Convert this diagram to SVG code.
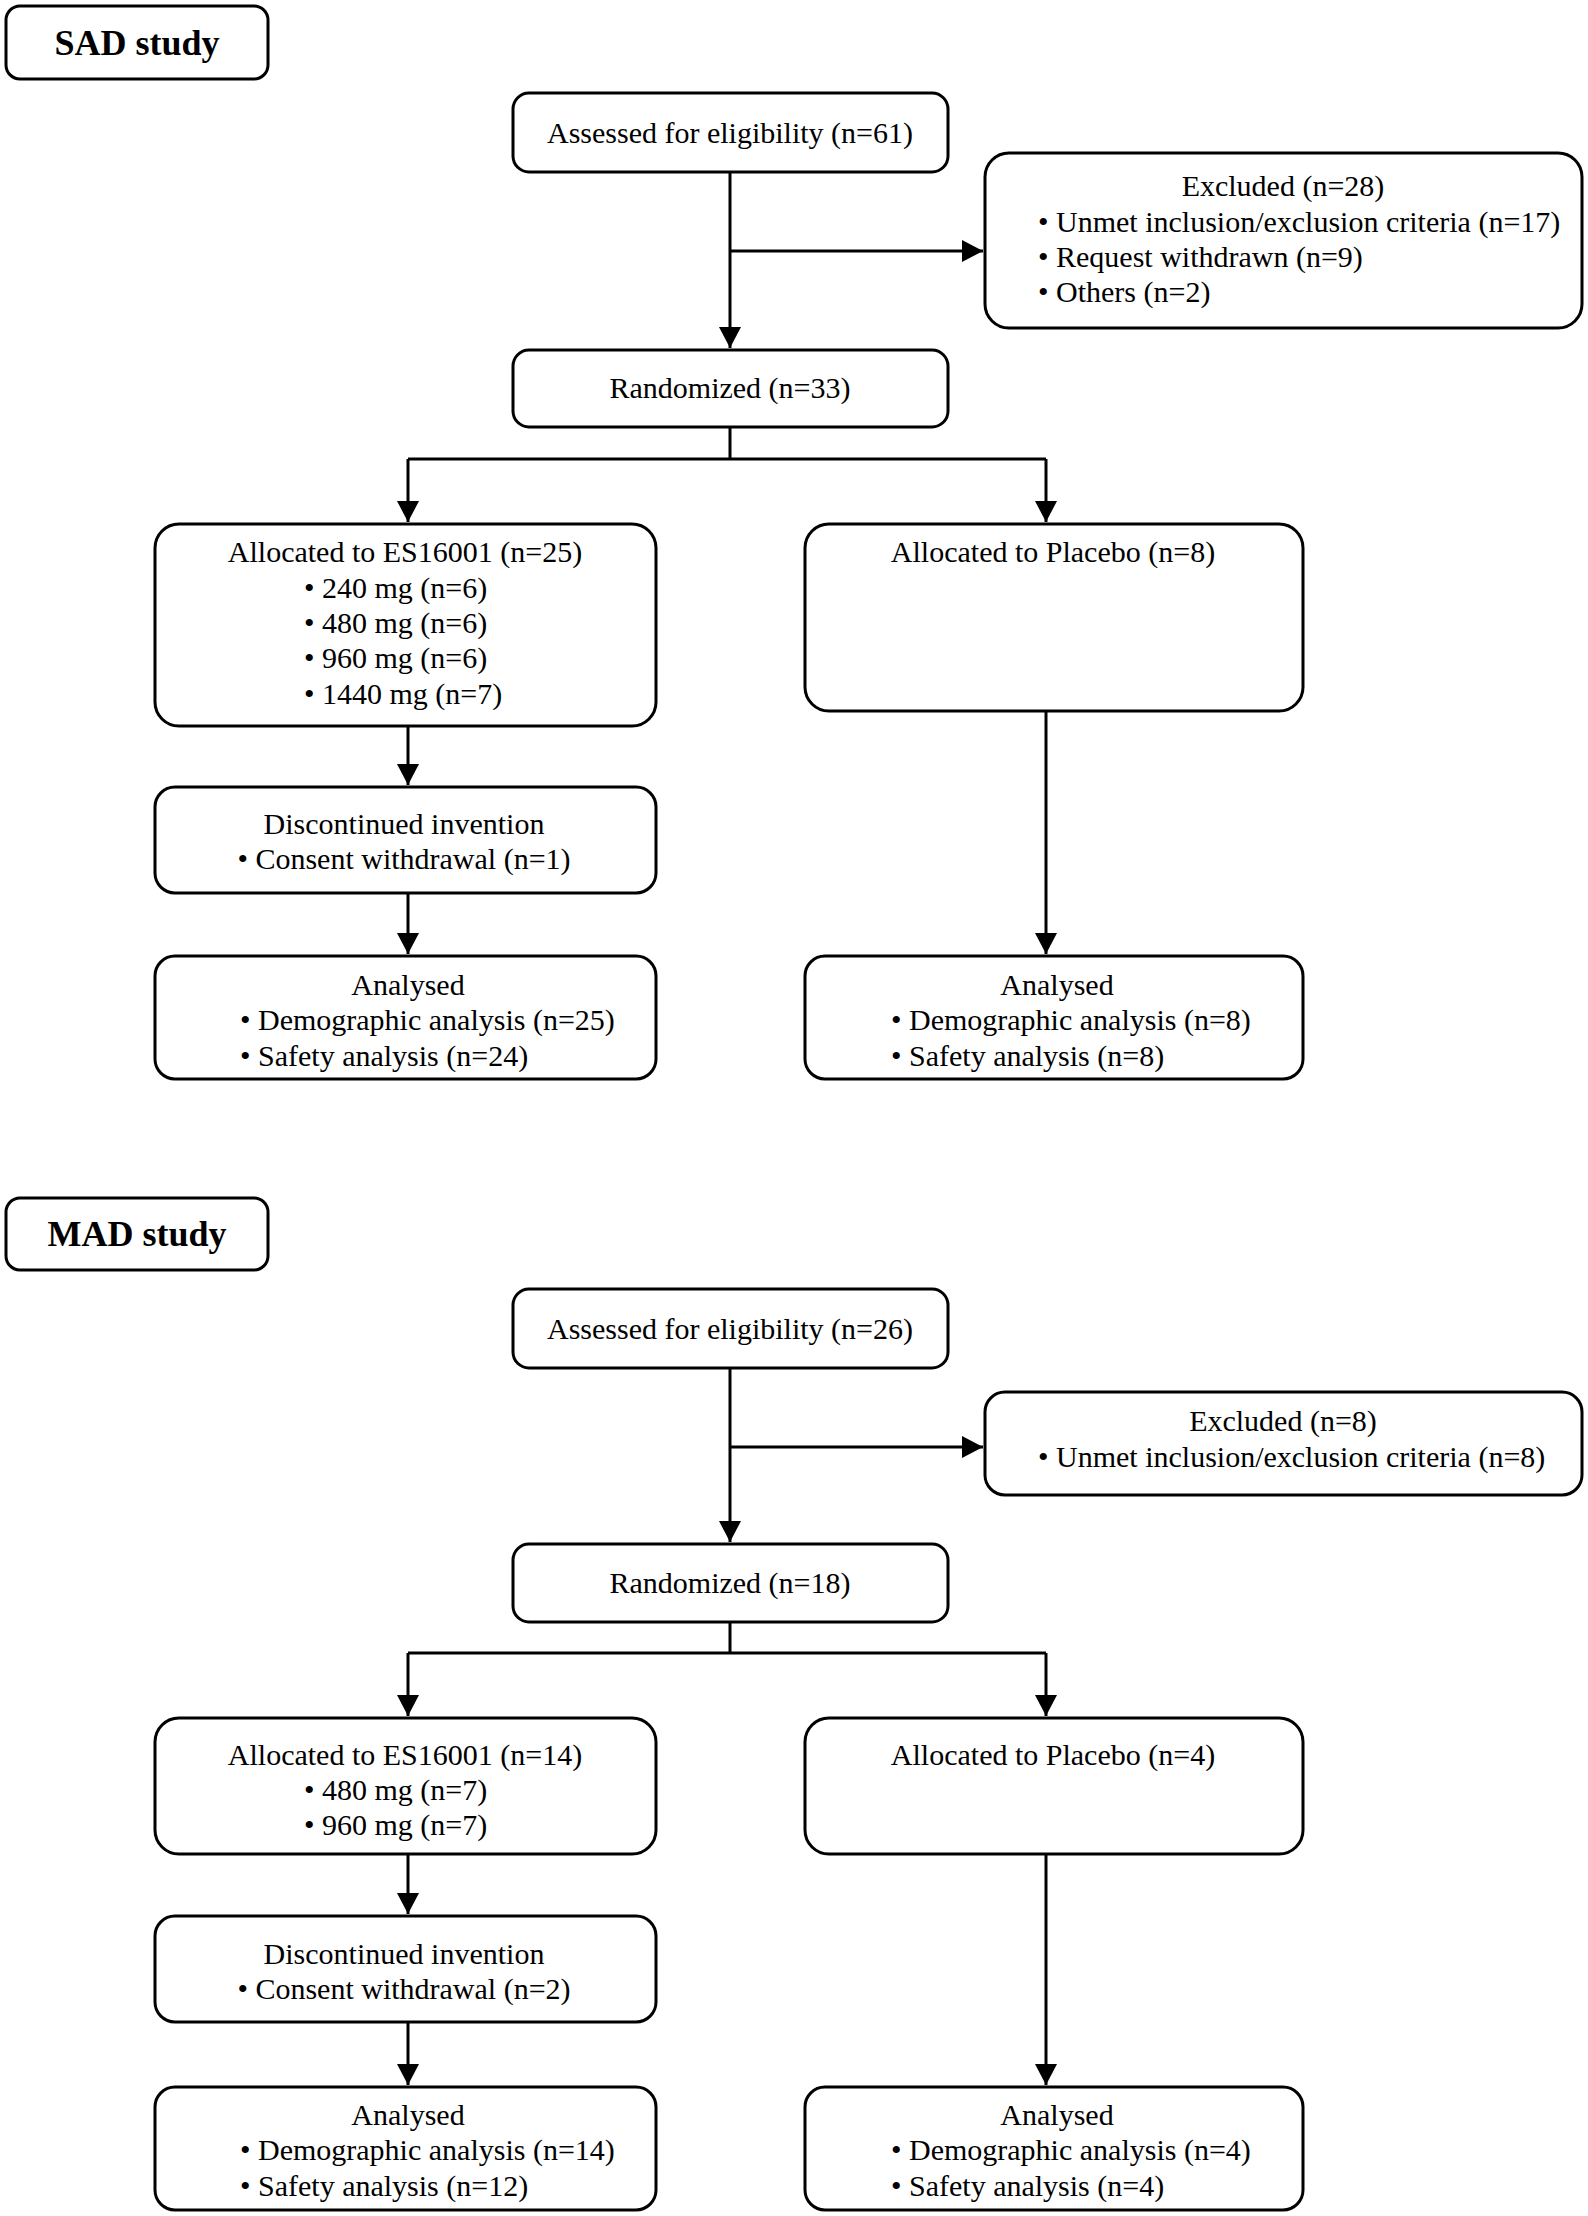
<svg xmlns="http://www.w3.org/2000/svg" width="1588" height="2216" viewBox="0 0 1588 2216">
<style>
.box{fill:#fff;stroke:#000;stroke-width:3}
.t{font-family:"Liberation Serif","Times New Roman",serif;font-size:30px;fill:#000}
.c{text-anchor:middle}
.h{font-family:"Liberation Serif","Times New Roman",serif;font-size:36px;font-weight:bold;fill:#000;text-anchor:middle}
.ln{fill:none;stroke:#000;stroke-width:3}
</style>
<defs>
<marker id="arr" markerUnits="userSpaceOnUse" markerWidth="24" markerHeight="24" refX="21" refY="11" orient="auto">
<path d="M0,0 L21,11 L0,22 z" fill="#000"/>
</marker>
</defs>
<rect width="1588" height="2216" fill="#fff"/>

<g id="connectors">
<path class="ln" d="M730,172 V348" marker-end="url(#arr)"/>
<path class="ln" d="M730,251 H983" marker-end="url(#arr)"/>
<path class="ln" d="M730,427 V459 M408,459 H1046"/>
<path class="ln" d="M408,459 V522" marker-end="url(#arr)"/>
<path class="ln" d="M1046,459 V522" marker-end="url(#arr)"/>
<path class="ln" d="M408,726 V785" marker-end="url(#arr)"/>
<path class="ln" d="M408,893 V954" marker-end="url(#arr)"/>
<path class="ln" d="M1046,711 V954" marker-end="url(#arr)"/>

<path class="ln" d="M730,1368 V1542" marker-end="url(#arr)"/>
<path class="ln" d="M730,1447 H983" marker-end="url(#arr)"/>
<path class="ln" d="M730,1622 V1653 M408,1653 H1046"/>
<path class="ln" d="M408,1653 V1716" marker-end="url(#arr)"/>
<path class="ln" d="M1046,1653 V1716" marker-end="url(#arr)"/>
<path class="ln" d="M408,1854 V1914" marker-end="url(#arr)"/>
<path class="ln" d="M408,2022 V2085" marker-end="url(#arr)"/>
<path class="ln" d="M1046,1854 V2085" marker-end="url(#arr)"/>
</g>

<g id="sad-title">
<rect class="box" x="6" y="6" width="262" height="73" rx="14"/>
<text class="h" x="137" y="55">SAD study</text>
</g>
<g id="sad-assessed">
<rect class="box" x="513" y="93" width="435" height="79" rx="16"/>
<text class="t c" x="730" y="143">Assessed for eligibility (n=61)</text>
</g>
<g id="sad-excluded">
<rect class="box" x="985" y="153" width="597" height="175" rx="24"/>
<text class="t c" x="1283" y="196">Excluded (n=28)</text>
<text class="t" x="1038" y="232">• Unmet inclusion/exclusion criteria (n=17)</text>
<text class="t" x="1038" y="267">• Request withdrawn (n=9)</text>
<text class="t" x="1038" y="302">• Others (n=2)</text>
</g>
<g id="sad-randomized">
<rect class="box" x="513" y="350" width="435" height="77" rx="16"/>
<text class="t c" x="730" y="398">Randomized (n=33)</text>
</g>
<g id="sad-es">
<rect class="box" x="155" y="524" width="501" height="202" rx="24"/>
<text class="t c" x="405" y="562">Allocated to ES16001 (n=25)</text>
<text class="t" x="304" y="598">• 240 mg (n=6)</text>
<text class="t" x="304" y="633">• 480 mg (n=6)</text>
<text class="t" x="304" y="668">• 960 mg (n=6)</text>
<text class="t" x="304" y="704">• 1440 mg (n=7)</text>
</g>
<g id="sad-placebo">
<rect class="box" x="805" y="524" width="498" height="187" rx="24"/>
<text class="t c" x="1053" y="562">Allocated to Placebo (n=8)</text>
</g>
<g id="sad-discontinued">
<rect class="box" x="155" y="787" width="501" height="106" rx="20"/>
<text class="t c" x="404" y="834">Discontinued invention</text>
<text class="t c" x="404" y="869">• Consent withdrawal (n=1)</text>
</g>
<g id="sad-analysed-es">
<rect class="box" x="155" y="956" width="501" height="123" rx="20"/>
<text class="t c" x="408" y="995">Analysed</text>
<text class="t" x="240" y="1030">• Demographic analysis (n=25)</text>
<text class="t" x="240" y="1066">• Safety analysis (n=24)</text>
</g>
<g id="sad-analysed-placebo">
<rect class="box" x="805" y="956" width="498" height="123" rx="20"/>
<text class="t c" x="1057" y="995">Analysed</text>
<text class="t" x="891" y="1030">• Demographic analysis (n=8)</text>
<text class="t" x="891" y="1066">• Safety analysis (n=8)</text>
</g>

<g id="mad-title">
<rect class="box" x="6" y="1198" width="262" height="72" rx="14"/>
<text class="h" x="137" y="1246">MAD study</text>
</g>
<g id="mad-assessed">
<rect class="box" x="513" y="1289" width="435" height="79" rx="16"/>
<text class="t c" x="730" y="1339">Assessed for eligibility (n=26)</text>
</g>
<g id="mad-excluded">
<rect class="box" x="985" y="1392" width="597" height="103" rx="20"/>
<text class="t c" x="1283" y="1431">Excluded (n=8)</text>
<text class="t" x="1038" y="1467">• Unmet inclusion/exclusion criteria (n=8)</text>
</g>
<g id="mad-randomized">
<rect class="box" x="513" y="1544" width="435" height="78" rx="16"/>
<text class="t c" x="730" y="1593">Randomized (n=18)</text>
</g>
<g id="mad-es">
<rect class="box" x="155" y="1718" width="501" height="136" rx="24"/>
<text class="t c" x="405" y="1765">Allocated to ES16001 (n=14)</text>
<text class="t" x="304" y="1800">• 480 mg (n=7)</text>
<text class="t" x="304" y="1835">• 960 mg (n=7)</text>
</g>
<g id="mad-placebo">
<rect class="box" x="805" y="1718" width="498" height="136" rx="24"/>
<text class="t c" x="1053" y="1765">Allocated to Placebo (n=4)</text>
</g>
<g id="mad-discontinued">
<rect class="box" x="155" y="1916" width="501" height="106" rx="20"/>
<text class="t c" x="404" y="1964">Discontinued invention</text>
<text class="t c" x="404" y="1999">• Consent withdrawal (n=2)</text>
</g>
<g id="mad-analysed-es">
<rect class="box" x="155" y="2087" width="501" height="123" rx="20"/>
<text class="t c" x="408" y="2125">Analysed</text>
<text class="t" x="240" y="2160">• Demographic analysis (n=14)</text>
<text class="t" x="240" y="2196">• Safety analysis (n=12)</text>
</g>
<g id="mad-analysed-placebo">
<rect class="box" x="805" y="2087" width="498" height="123" rx="20"/>
<text class="t c" x="1057" y="2125">Analysed</text>
<text class="t" x="891" y="2160">• Demographic analysis (n=4)</text>
<text class="t" x="891" y="2196">• Safety analysis (n=4)</text>
</g>
</svg>
